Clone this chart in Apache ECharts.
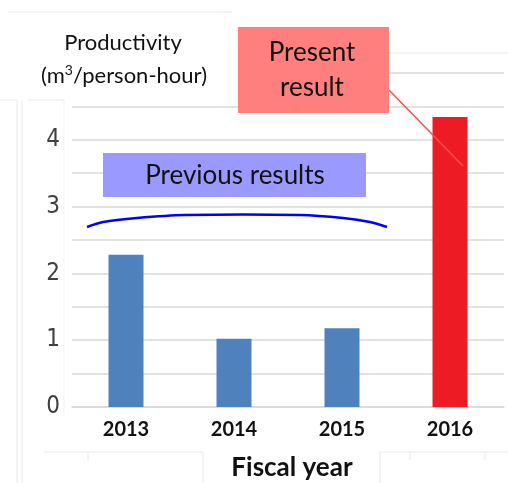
<!DOCTYPE html>
<html>
<head>
<meta charset="utf-8">
<script src="https://cdn.jsdelivr.net/npm/echarts@6/dist/echarts.min.js"></script>
<style>
html, body { margin: 0; padding: 0; background: #fff; }
#main { width: 508px; height: 483px; }
</style>
</head>
<body>
<div id="main"></div>
<script>
// data
var years = ['2013', '2014', '2015', '2016'];
var productivity = [2.28, 1.02, 1.18, 4.34];
var barColors = ['#4f81bd', '#4f81bd', '#4f81bd', '#ed1c24'];
var yTicks = [0, 1, 2, 3, 4];

var myChart = echarts.init(document.getElementById('main'));

var seriesData = productivity.map(function (v, i) {
    return { value: v, itemStyle: { color: barColors[i] } };
});

var faint = '#e8e8e8';

var option = {
    animation: false,
    grid: { left: 72, right: 4, top: 73, bottom: 76 },
    xAxis: {
        type: 'category',
        data: years,
        axisTick: { show: false },
        axisLine: { lineStyle: { color: '#d9d9d9', width: 1.5 } },
        axisLabel: {
            margin: 13,
            color: '#111',
            fontFamily: 'Lato',
            fontWeight: 'bold',
            fontSize: 20
        }
    },
    yAxis: {
        type: 'value',
        min: 0,
        max: 5,
        interval: 0.5,
        axisLine: { show: false },
        axisTick: { show: false },
        splitLine: { lineStyle: { color: '#d9d9d9', width: 1.5 } },
        axisLabel: {
            margin: 12,
            color: '#404040',
            fontFamily: '"DejaVu Sans Condensed", "Liberation Sans Narrow", sans-serif',
            fontSize: 24,
            formatter: function (v) {
                return yTicks.indexOf(v) >= 0 ? String(v) : '';
            }
        }
    },
    series: [{
        type: 'bar',
        data: seriesData,
        barWidth: 35,
        z: 2
    }],
    graphic: [
        // white title area covering top gridline
        { type: 'rect', z: 10, shape: { x: 0, y: 0, width: 238, height: 100 }, style: { fill: '#fff' } },
        // faint frame lines from the screenshot
        { type: 'line', z: 11, shape: { x1: 8, y1: 12, x2: 232, y2: 12 }, style: { stroke: faint, lineWidth: 1 } },
        { type: 'line', z: 11, shape: { x1: 0, y1: 100, x2: 17, y2: 100 }, style: { stroke: faint, lineWidth: 1 } },
        { type: 'line', z: 11, shape: { x1: 17, y1: 100, x2: 17, y2: 483 }, style: { stroke: faint, lineWidth: 1 } },
        { type: 'line', z: 11, shape: { x1: 22, y1: 100, x2: 22, y2: 483 }, style: { stroke: faint, lineWidth: 1 } },
        { type: 'line', z: 11, shape: { x1: 28, y1: 100, x2: 64, y2: 100 }, style: { stroke: faint, lineWidth: 1 } },
        { type: 'line', z: 11, shape: { x1: 64, y1: 100, x2: 64, y2: 417 }, style: { stroke: '#f2f2f2', lineWidth: 1 } },
        { type: 'line', z: 11, shape: { x1: 389, y1: 53, x2: 508, y2: 53 }, style: { stroke: faint, lineWidth: 1 } },
        { type: 'line', z: 11, shape: { x1: 44, y1: 452, x2: 203, y2: 452 }, style: { stroke: faint, lineWidth: 1 } },
        { type: 'line', z: 11, shape: { x1: 380, y1: 452, x2: 508, y2: 452 }, style: { stroke: faint, lineWidth: 1 } },
        { type: 'line', z: 11, shape: { x1: 88, y1: 452, x2: 88, y2: 460 }, style: { stroke: faint, lineWidth: 1 } },
        { type: 'line', z: 11, shape: { x1: 410, y1: 452, x2: 410, y2: 460 }, style: { stroke: faint, lineWidth: 1 } },
        { type: 'line', z: 11, shape: { x1: 485, y1: 452, x2: 485, y2: 460 }, style: { stroke: faint, lineWidth: 1 } },
        { type: 'line', z: 11, shape: { x1: 203, y1: 452, x2: 203, y2: 483 }, style: { stroke: faint, lineWidth: 1 } },
        { type: 'line', z: 11, shape: { x1: 380, y1: 452, x2: 380, y2: 483 }, style: { stroke: faint, lineWidth: 1 } },
        // y axis title
        {
            type: 'text', z: 12,
            style: {
                text: 'Productivity', x: 123, y: 43, align: 'center', verticalAlign: 'middle',
                fill: '#111', font: '22px Lato'
            }
        },
        {
            type: 'text', z: 12,
            style: {
                text: '(m{sup|3}/person-hour)', x: 124, y: 76, align: 'center', verticalAlign: 'middle',
                fill: '#111', font: '22px Lato',
                rich: { sup: { fontSize: 14, fontFamily: 'Lato', verticalAlign: 'top', padding: [0, 0, 12, 0] } }
            }
        },
        // x axis title
        { type: 'rect', z: 12, shape: { x: 204, y: 453, width: 175, height: 30 }, style: { fill: '#fff' } },
        {
            type: 'text', z: 13,
            style: {
                text: 'Fiscal year', x: 292, y: 468, align: 'center', verticalAlign: 'middle',
                fill: '#111', font: 'bold 26px Lato'
            }
        },
        // previous results annotation
        { type: 'rect', z: 12, shape: { x: 103, y: 153, width: 263, height: 44 }, style: { fill: '#9999ff' } },
        {
            type: 'text', z: 13,
            style: {
                text: 'Previous results', x: 235, y: 176, align: 'center', verticalAlign: 'middle',
                fill: '#111', font: '26px Lato'
            }
        },
        {
            type: 'polyline', z: 12,
            shape: {
                points: [[87, 227], [103, 222], [137, 218], [185, 215], [300, 215], [343, 218], [370, 222], [387, 227]],
                smooth: 0.3
            },
            style: { fill: null, stroke: '#0000ff', lineWidth: 2.5 }
        },
        // present result annotation
        { type: 'line', z: 12, shape: { x1: 389, y1: 90, x2: 463, y2: 166 }, style: { stroke: '#ff4d4d', lineWidth: 1.5 } },
        { type: 'rect', z: 12, shape: { x: 238, y: 27, width: 151, height: 86 }, style: { fill: '#ff7f7f' } },
        {
            type: 'text', z: 13,
            style: {
                text: 'Present\nresult', x: 312, y: 70, align: 'center', verticalAlign: 'middle',
                fill: '#111', font: '26px Lato', lineHeight: 35
            }
        }
    ]
};

myChart.setOption(option);
</script>
</body>
</html>
